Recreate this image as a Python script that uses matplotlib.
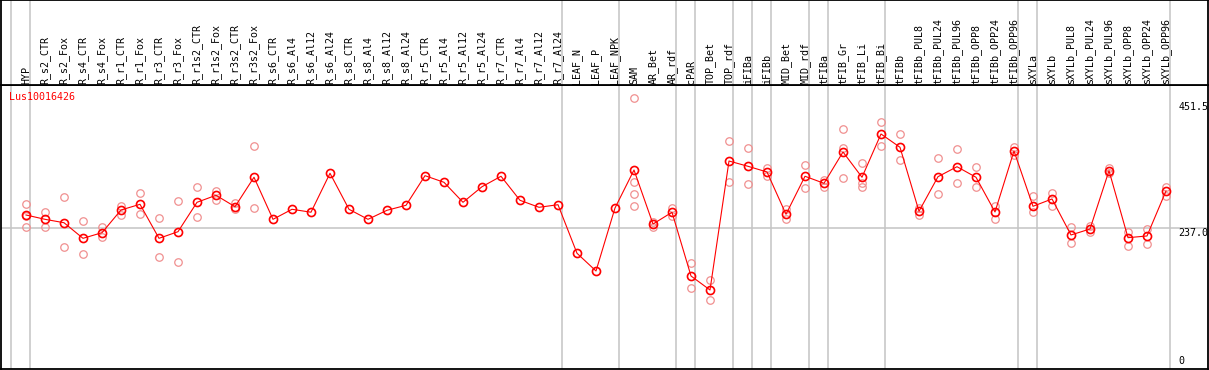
import matplotlib
matplotlib.use("Agg")
import matplotlib.pyplot as plt
import matplotlib.transforms as mtransforms

categories = ["HYP", "R_s2_CTR", "R_s2_Fox", "R_s4_CTR", "R_s4_Fox", "R_r1_CTR", "R_r1_Fox",
              "R_r3_CTR", "R_r3_Fox", "R_r1s2_CTR", "R_r1s2_Fox", "R_r3s2_CTR", "R_r3s2_Fox",
              "R_s6_CTR", "R_s6_Al4", "R_s6_Al12", "R_s6_Al24", "R_s8_CTR", "R_s8_Al4",
              "R_s8_Al12", "R_s8_Al24", "R_r5_CTR", "R_r5_Al4", "R_r5_Al12", "R_r5_Al24",
              "R_r7_CTR", "R_r7_Al4", "R_r7_Al12", "R_r7_Al24", "LEAF_N", "LEAF_P", "LEAF_NPK",
              "SAM", "AR_Bet", "AR_rdf", "cPAR", "TOP_Bet", "TOP_rdf", "iFIBa", "iFIBb",
              "MID_Bet", "MID_rdf", "tFIBa", "tFIB_Gr", "tFIB_Li", "tFIB_Bi", "tFIBb",
              "tFIBb_PUL8", "tFIBb_PUL24", "tFIBb_PUL96", "tFIBb_OPP8", "tFIBb_OPP24",
              "tFIBb_OPP96", "sXYLa", "sXYLb", "sXYLb_PUL8", "sXYLb_PUL24", "sXYLb_PUL96",
              "sXYLb_OPP8", "sXYLb_OPP24", "sXYLb_OPP96"]

means = [259.7, 252.3, 246.5, 219.9, 229.5, 268.2, 277.9, 219.9, 231.2, 281.3,
         293.3, 273.8, 324.0, 252.3, 269.4, 264.4, 330.8, 269.4, 252.3, 267.7,
         276.2, 326.7, 315.4, 281.3, 307.9, 325.7, 284.7, 272.8, 277.2, 194.4,
         164.2, 271.6, 336.4, 244.3, 264.3, 155.7, 131.8, 351.7, 342.7, 333.0,
         260.9, 325.7, 313.7, 367.1, 324.0, 397.8, 375.1, 266.0, 325.0, 342.0,
         324.0, 264.8, 368.8, 274.5, 287.0, 225.6, 235.8, 335.2, 221.0, 223.9, 300.6]

replicates = [
    [277.9, 258.0, 239.7], [264.3, 239.7], [289.9, 204.6], [248.9, 193.2], [239.7, 221.7],
    [275.5, 259.7], [296.7, 260.9], [254.0, 187.6], [283.5, 179.0], [306.9, 255.8],
    [301.1, 285.2], [280.6, 269.4], [377.3, 271.1],
    [], [], [], [], [], [], [], [], [], [], [], [], [], [], [], [], [], [], [],
    [458.6, 316.4, 295.0, 274.5], [247.2, 239.7], [272.1, 258.5], [177.3, 134.7],
    [148.8, 114.7], [385.8, 315.4], [373.4, 312.0], [340.3, 326.2], [269.4, 253.4],
    [344.9, 305.2], [319.0, 307.9], [405.8, 374.4, 322.2], [347.8, 313.7, 306.9],
    [417.7, 377.8], [397.3, 352.9], [271.1, 259.7], [356.3, 295.0], [371.7, 313.7],
    [341.0, 306.9], [275.0, 252.3], [376.1, 362.0], [291.6, 265.3], [296.7, 275.5],
    [238.7, 211.4], [240.9, 230.7], [339.3, 330.8], [230.2, 207.3], [235.3, 210.7],
    [307.9, 292.6],
]

# group boundaries: separator drawn after these column numbers (0 = before first)
group_ends = [0, 1, 29, 32, 35, 36, 38, 39, 40, 42, 43, 46, 53, 54, 61]

ytick_values = [451.5, 237.0, 0]
ytick_labels = ["451.5", "237.0", "0"]
grid_values = [237.0]
title = "Lus10016426"

W, H = 1209, 370
fig = plt.figure(figsize=(W / 100, H / 100), dpi=100)

FONT = "DejaVu Sans Mono"
FS = 7.2
GRAY = "#c4c4c4"
RED = "#ff0000"
PINK = "#f09090"

left_px, right_px = 1.0, 1207.5
top_main, bottom_main = 85.0, 369.0
xlim = ((left_px - 7) / 19, (right_px - 7) / 19)

ax = fig.add_axes([left_px / W, (H - bottom_main) / H,
                   (right_px - left_px) / W, (bottom_main - top_main) / H])
axh = fig.add_axes([left_px / W, (H - top_main) / H,
                    (right_px - left_px) / W, top_main / H])

for a in (ax, axh):
    a.set_xlim(*xlim)
    a.set_xticks([])
    a.set_yticks([])
    for s in a.spines.values():
        s.set_color("black")
        s.set_linewidth(1.3)
    for g in group_ends:
        a.axvline(g + 0.23, color=GRAY, lw=1.1, zorder=0)

ax.set_ylim(-2.9, 481.3)
axh.set_ylim(85, 0)

for gv in grid_values:
    ax.axhline(gv, color=GRAY, lw=1.1, zorder=0)

xs = list(range(1, len(categories) + 1))

# replicate points
rx, ry = [], []
for x, reps in zip(xs, replicates):
    for r in reps:
        rx.append(x)
        ry.append(r)
ax.plot(rx, ry, linestyle="none", marker="o", markersize=5.4, markerfacecolor="none",
        markeredgecolor=PINK, markeredgewidth=0.9, zorder=2)

# mean line
ax.plot(xs, means, color=RED, lw=0.8, marker="o", markersize=5.8, markerfacecolor="none",
        markeredgecolor=RED, markeredgewidth=1.2, zorder=3)

# header labels
for x, c in zip(xs, categories):
    axh.text(x, 83.5, c, rotation=90, ha="center", va="bottom", fontsize=FS,
             family=FONT, color="black")

# title
fig.text(9.3 / W, (H - 97) / H, title, color=RED, fontsize=FS, family=FONT,
         ha="left", va="center")

# right axis value labels
tx = (1178.5 - 7) / 19
for v, lab in zip(ytick_values, ytick_labels):
    if v == 0:
        ax.text(tx, v, lab, fontsize=FS, family=FONT, ha="left", va="bottom",
                transform=ax.transData + mtransforms.ScaledTranslation(0, 1.5 / 100, fig.dpi_scale_trans),
                clip_on=True)
    else:
        ax.text(tx, v, lab, fontsize=FS, family=FONT, ha="left", va="top", clip_on=True)

fig.savefig("out.png", dpi=100)
